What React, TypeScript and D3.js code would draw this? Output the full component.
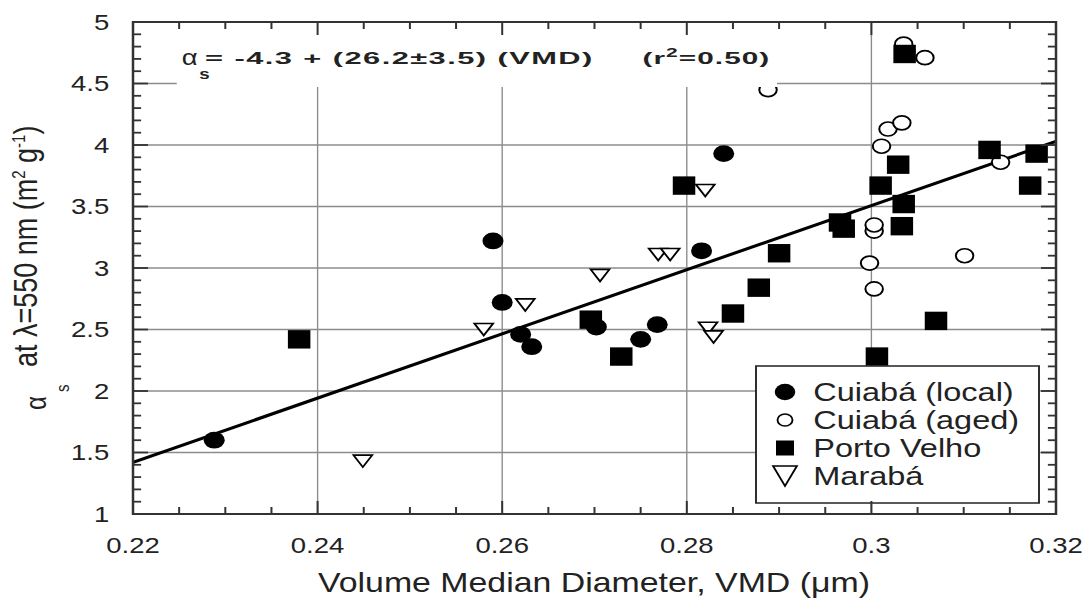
import React from 'react';
import * as d3 from 'd3';

// series: [VMD (um), alpha_s (m2/g)]
const cuiabaLocal: [number, number][] = [
  [0.2288, 1.6], [0.259, 3.22], [0.26, 2.72], [0.262, 2.46], [0.2632, 2.36],
  [0.2702, 2.52], [0.275, 2.42], [0.2768, 2.54], [0.2816, 3.14], [0.284, 3.93],
];
const cuiabaAged: [number, number][] = [
  [0.2888, 4.45], [0.2998, 3.04], [0.3003, 2.83], [0.3003, 3.3], [0.3003, 3.35],
  [0.3011, 3.99], [0.3018, 4.13], [0.3033, 4.18], [0.3035, 4.82], [0.3058, 4.71],
  [0.3101, 3.1], [0.314, 3.86],
];
const portoVelho: [number, number][] = [
  [0.238, 2.42], [0.2696, 2.58], [0.2729, 2.28], [0.285, 2.63], [0.2878, 2.84],
  [0.2797, 3.67], [0.29, 3.12], [0.2966, 3.37], [0.297, 3.32], [0.3006, 2.28],
  [0.301, 3.67], [0.3029, 3.84], [0.3033, 3.34], [0.3035, 3.52], [0.3036, 4.74],
  [0.307, 2.57], [0.3128, 3.96], [0.3172, 3.67], [0.3179, 3.93],
];
const maraba: [number, number][] = [
  [0.2449, 1.43], [0.258, 2.5], [0.2625, 2.7], [0.2706, 2.94], [0.2769, 3.11],
  [0.2782, 3.11], [0.282, 3.63], [0.2823, 2.51], [0.2829, 2.44],
];
const fitLine: [number, number][] = [[0.22, 1.42], [0.32, 4.03]];

const xTicks = [0.22, 0.24, 0.26, 0.28, 0.3, 0.32];
const xTickLabels = ['0.22', '0.24', '0.26', '0.28', '0.3', '0.32'];
const yTicks = [1, 1.5, 2, 2.5, 3, 3.5, 4, 4.5, 5];
const yTickLabels = ['1', '1.5', '2', '2.5', '3', '3.5', '4', '4.5', '5'];
const legendLabels = ['Cuiabá (local)', 'Cuiabá (aged)', 'Porto Velho', 'Marabá'];

// the original figure is stretched sideways, so draw in a narrower viewBox
const S = 1.25;
const VW = 1086 / S;
const FONT = '"Liberation Sans", Arial, sans-serif';

const x = d3.scaleLinear().domain([0.22, 0.32]).range([133 / S, 1056 / S]);
const y = d3.scaleLinear().domain([1, 5]).range([514, 22]);

const tri = (w: number, h: number) => `M${-w / 2},${-h / 2}L${w / 2},${-h / 2}L0,${h / 2}Z`;

export default function App() {
  const [x0, x1] = x.range();
  const [yb, yt] = y.range();
  const xMinor = d3.range(0.22, 0.3201, 0.005);
  const yMinor = d3.range(1, 5.001, 0.1);
  const line = d3.line<[number, number]>().x((d) => x(d[0])).y((d) => y(d[1]));

  return (
    <svg
      width={1086}
      height={599}
      viewBox={`0 0 ${VW} 599`}
      preserveAspectRatio="none"
      style={{ position: 'absolute', left: 0, top: 0, display: 'block', background: '#fff' }}
      fontFamily={FONT}
    >
      {/* grid */}
      {xTicks.slice(1, -1).map((t) => (
        <line key={'gx' + t} x1={x(t)} x2={x(t)} y1={yt} y2={yb} stroke="#8c8c8c" strokeWidth={1.1} />
      ))}
      {yTicks.slice(1, -1).map((t) => (
        <line key={'gy' + t} x1={x0} x2={x1} y1={y(t)} y2={y(t)} stroke="#8c8c8c" strokeWidth={1.3} />
      ))}

      <path d={line(fitLine) || ''} stroke="#000" strokeWidth={3} fill="none" />

      {cuiabaAged.map((d, i) => (
        <circle key={'a' + i} cx={x(d[0])} cy={y(d[1])} r={7} fill="#fff" stroke="#000" strokeWidth={1.6} />
      ))}
      {portoVelho.map((d, i) => (
        <rect key={'p' + i} x={x(d[0]) - 9} y={y(d[1]) - 9.2} width={18} height={18.4} fill="#000" />
      ))}
      {cuiabaLocal.map((d, i) => (
        <circle key={'l' + i} cx={x(d[0])} cy={y(d[1])} r={8.4} fill="#000" />
      ))}
      {maraba.map((d, i) => (
        <path key={'m' + i} transform={`translate(${x(d[0])},${y(d[1])})`} d={tri(15, 12)}
          fill="#fff" stroke="#000" strokeWidth={1.6} />
      ))}

      {/* white patch behind the fit equation */}
      <rect x={141.4} y={yt + 1} width={621.6 - 141.4} height={87 - yt - 1} fill="#fff" />
      <text x={145.4} y={65} fontSize={22} fill="#222">α</text>
      <text x={159.5} y={79} fontSize={15} fontWeight="bold" fill="#222">s</text>
      <g transform="translate(164,64) scale(1.45,1)" fontSize={17} fontWeight="bold" fill="#222">
        <text x={0} y={0} letterSpacing={0.8}>= -4.3 + (26.2±3.5) (VMD)</text>
      </g>
      <g transform="translate(514,64) scale(1.4,1)" fontSize={17} fontWeight="bold" fill="#222">
        <text x={0} y={0} letterSpacing={0.6}>
          (r<tspan dy={-7} fontSize={12}>2</tspan><tspan dy={7}>=0.50)</tspan>
        </text>
      </g>

      {/* legend */}
      <rect x={604.8} y={366} width={226.4} height={137} fill="#fff" stroke="#222" strokeWidth={1.5} />
      {legendLabels.map((lab, i) => {
        const cy = 392 + i * 28;
        return (
          <g key={lab}>
            {i === 0 && <circle cx={628} cy={cy} r={8.2} fill="#000" />}
            {i === 1 && <circle cx={628} cy={cy} r={6} fill="#fff" stroke="#000" strokeWidth={1.5} />}
            {i === 2 && <rect x={628 - 7.2} y={cy - 7.5} width={14.4} height={15} fill="#000" />}
            {i === 3 && (
              <path transform={`translate(628,${cy})`} d={tri(19, 20)} fill="#fff" stroke="#000" strokeWidth={1.6} />
            )}
            <text x={650.6} y={cy + 9} fontSize={26} fill="#222">{lab}</text>
          </g>
        );
      })}

      {/* frame and inward ticks */}
      {xMinor.map((t, i) => {
        const major = i % 4 === 0;
        const len = major ? 13 : 7;
        return (
          <g key={'tx' + i} stroke="#333" strokeWidth={1.6}>
            <line x1={x(t)} x2={x(t)} y1={yb} y2={yb - len} />
            <line x1={x(t)} x2={x(t)} y1={yt} y2={yt + len} />
          </g>
        );
      })}
      {yMinor.map((t, i) => {
        const major = i % 5 === 0;
        const len = major ? 12 : 6.5;
        return (
          <g key={'ty' + i} stroke="#333" strokeWidth={1.8}>
            <line x1={x0} x2={x0 + len} y1={y(t)} y2={y(t)} />
            <line x1={x1} x2={x1 - len} y1={y(t)} y2={y(t)} />
          </g>
        );
      })}
      <rect x={x0} y={yt} width={x1 - x0} height={yb - yt} fill="none" stroke="#333" strokeWidth={2} />

      {/* tick labels */}
      {xTicks.map((t, i) => (
        <text key={'lx' + t} x={x(t)} y={553} textAnchor="middle" fontSize={22} fill="#222">
          {xTickLabels[i]}
        </text>
      ))}
      {yTicks.map((t, i) => (
        <text key={'ly' + t} x={87.4} y={y(t)} dy="0.36em" textAnchor="end" fontSize={22} fill="#222">
          {yTickLabels[i]}
        </text>
      ))}

      {/* axis titles */}
      <text x={475.2} y={592} textAnchor="middle" fontSize={28} fill="#222"
        textLength={441.6} lengthAdjust="spacingAndGlyphs">
        Volume Median Diameter, VMD (μm)
      </text>
      <text transform="translate(37,410) rotate(-90)" fontSize={24} fill="#222">α</text>
      <text transform="translate(55,392) rotate(-90)" fontSize={15} fill="#222">s</text>
      <text transform="translate(29.6,367) rotate(-90)" fontSize={27} fill="#222">
        at λ=550 nm (m<tspan dy={-10} fontSize={15}>2</tspan>
        <tspan dy={10}> g</tspan>
        <tspan dy={-10} fontSize={15}>-1</tspan>
        <tspan dy={10}>)</tspan>
      </text>
    </svg>
  );
}
